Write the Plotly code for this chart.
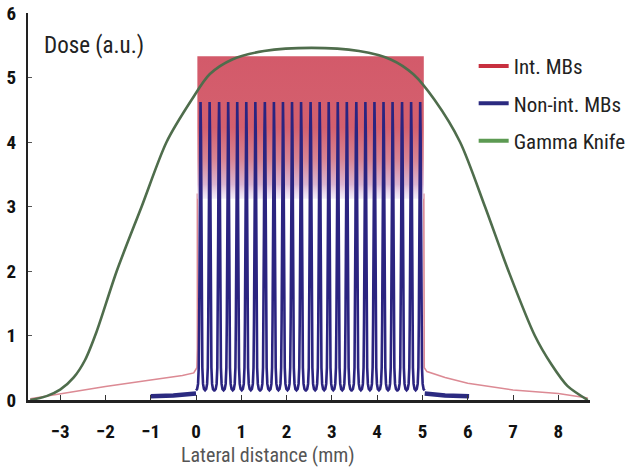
import plotly.graph_objects as go

# ---------------- data ----------------
# Gamma Knife profile
gk_x = [-3.66, -3.3, -3.0, -2.7, -2.45, -2.2, -1.75, -1.2, -0.65, -0.1, 0.3, 0.8, 1.5, 2.55,
        3.6, 4.3, 4.8, 5.27, 5.83, 6.38, 6.9, 7.48, 7.85, 8.2, 8.65]
gk_y = [0.0, 0.06, 0.16, 0.35, 0.62, 1.05, 2.0, 3.0, 4.0, 4.65, 5.05, 5.28, 5.41, 5.46,
        5.41, 5.28, 5.05, 4.65, 4.0, 3.0, 2.0, 1.0, 0.55, 0.22, 0.0]

# Interlaced microbeams: out-of-field tails and in-field peak/valley band
int_left_x = [-3.66, -3.0, -2.0, -1.0, -0.3, -0.05, 0.02, 0.03, 0.03]
int_left_y = [0.02, 0.10, 0.21, 0.31, 0.38, 0.42, 0.5, 0.8, 3.2]
int_right_x = [5.03, 5.03, 5.04, 5.1, 5.5, 6.0, 7.0, 8.0, 8.65]
int_right_y = [3.2, 0.8, 0.5, 0.44, 0.35, 0.26, 0.155, 0.10, 0.03]
int_field_edges = [0.03, 5.03]
int_peak_dose = 5.33
int_valley_dose = 3.12

# Non-interlaced microbeams
beam_centres = [0.10, 0.30, 0.51, 0.71, 0.91, 1.11, 1.31, 1.52, 1.72, 1.92, 2.12, 2.32,
                2.53, 2.73, 2.93, 3.13, 3.33, 3.54, 3.74, 3.94, 4.14, 4.34, 4.55, 4.75, 4.95]
beam_offsets = [-0.1, -0.075, -0.055, -0.04, -0.03, -0.02, -0.01, 0.0,
                0.01, 0.02, 0.03, 0.04, 0.055, 0.075, 0.1]
beam_dose = [0.15, 0.17, 0.25, 0.5, 1.2, 2.6, 4.1, 4.62,
             4.1, 2.6, 1.2, 0.5, 0.25, 0.17, 0.15]
non_left_x = [-1.0, -0.5, 0.0]
non_left_y = [0.06, 0.07, 0.1]
non_right_x = [5.05, 5.5, 6.03]
non_right_y = [0.1, 0.07, 0.06]

x_ticks = [-3, -2, -1, 0, 1, 2, 3, 4, 5, 6, 7, 8]
y_ticks = [0, 1, 2, 3, 4, 5, 6]
series_names = ["Int. MBs", "Non-int. MBs", "Gamma Knife"]
legend_colors = ["#c8303f", "#2b2a80", "#5c9a52"]

FONT = "Liberation Sans Narrow, Arial Narrow, Roboto Condensed, sans-serif"

# ---------------- build ----------------
blue_x, blue_y = [], []
for c in beam_centres:
    for o, d in zip(beam_offsets, beam_dose):
        blue_x.append(c + o)
        blue_y.append(d)

fig = go.Figure()

# red tails (with vertical field edges)
for xs, ys in [(int_left_x, int_left_y), (int_right_x, int_right_y)]:
    fig.add_trace(go.Scatter(x=xs, y=ys, mode="lines", showlegend=False,
                             line=dict(color="#dc8a94", width=1.6), hoverinfo="skip"))

# red in-field band (dense interlaced peaks)
x0, x1 = int_field_edges
fig.add_trace(go.Scatter(
    x=[x0, x0, x1, x1, x0],
    y=[int_valley_dose, int_peak_dose, int_peak_dose, int_valley_dose, int_valley_dose],
    mode="lines", line=dict(width=0), fill="toself", showlegend=False,
    fillgradient=dict(type="vertical",
                      colorscale=[[0.0, "rgba(235,225,245,0.6)"], [0.1, "#dcb6d2"],
                                  [0.28, "#d88493"], [0.5, "#d4606e"], [1.0, "#d35a6a"]]),
    hoverinfo="skip"))

# blue tails
for xs, ys in [(non_left_x, non_left_y), (non_right_x, non_right_y)]:
    fig.add_trace(go.Scatter(x=xs, y=ys, mode="lines", showlegend=False,
                             line=dict(color="#2b2a80", width=4.5), hoverinfo="skip"))

# blue microbeams
fig.add_trace(go.Scatter(x=blue_x, y=blue_y, mode="lines", showlegend=False,
                         line=dict(color="#2b2480", width=2.6), hoverinfo="skip"))

# gamma knife
fig.add_trace(go.Scatter(x=gk_x, y=gk_y, mode="lines", showlegend=False,
                         line=dict(color="#4f6d4c", width=2.6, shape="spline", smoothing=0.8),
                         hoverinfo="skip"))

# legend entries
for i, (name, col) in enumerate(zip(series_names, legend_colors)):
    fig.add_trace(go.Scatter(x=[None], y=[None], mode="lines", name=name,
                             legendgroup=f"g{i}", line=dict(color=col, width=4)))

fig.update_layout(
    width=632, height=476,
    margin=dict(l=28, r=42, t=13, b=76, autoexpand=False),
    paper_bgcolor="white", plot_bgcolor="white",
    font=dict(family=FONT, color="#222"),
    legend=dict(x=0.793, y=0.915, xanchor="left", yanchor="top",
                font=dict(size=21, family=FONT, color="#222"),
                traceorder="grouped", tracegroupgap=7, itemwidth=30,
                bgcolor="rgba(0,0,0,0)"),
    xaxis=dict(range=[-3.71, 8.70], tickvals=x_ticks, ticks="inside", ticklen=5,
               tickcolor="#333", showline=True, linecolor="#222", linewidth=2.5,
               showgrid=False, zeroline=False, ticklabelstandoff=12, automargin=False,
               tickfont=dict(size=19, family=FONT, color="#111", weight="bold")),
    yaxis=dict(range=[0, 6], tickvals=y_ticks, ticks="inside", ticklen=4,
               tickcolor="#555", showline=True, linecolor="#222", linewidth=2,
               showgrid=False, zeroline=False, ticklabelstandoff=6, automargin=False,
               tickfont=dict(size=19, family=FONT, color="#111", weight="bold")),
    annotations=[
        dict(text="Dose (a.u.)", xref="paper", yref="paper", x=0.025, y=0.917,
             xanchor="left", yanchor="middle", showarrow=False,
             font=dict(size=23, family=FONT, color="#222")),
        dict(text="Lateral distance (mm)", xref="paper", yref="paper", x=0.427, y=-0.142,
             xanchor="center", yanchor="middle", showarrow=False,
             font=dict(size=20, family=FONT, color="#555")),
    ],
)

fig.write_html("out.html", config={"displayModeBar": False},
               post_script="document.body.style.margin='0';document.body.style.overflow='hidden';")
